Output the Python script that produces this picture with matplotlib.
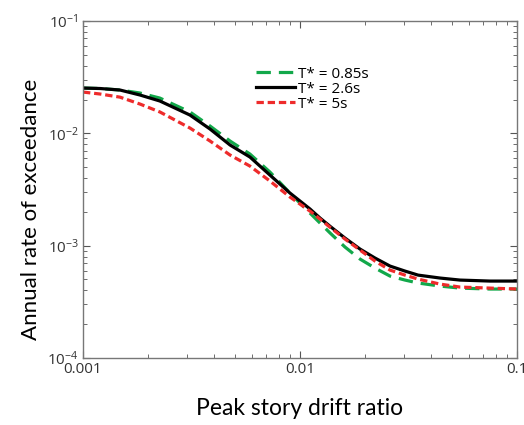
import numpy as np
import matplotlib
matplotlib.use('Agg')
from matplotlib import pyplot as plt
from matplotlib.ticker import LogLocator, NullFormatter, FixedLocator, FixedFormatter

# values (log-log axes)
drift = [0.001, 0.001198, 0.00148, 0.00183, 0.00226, 0.00311, 0.00385, 0.00476,
         0.00588, 0.00727, 0.00899, 0.01112, 0.01237, 0.01374, 0.01612, 0.0189,
         0.02216, 0.0260, 0.03047, 0.0350, 0.04417, 0.0546, 0.0751, 0.1]

rate_085 = [0.0253, 0.02506, 0.0243, 0.02285, 0.0206, 0.0155, 0.01161, 0.00854,
            0.00654, 0.00452, 0.00294, 0.00195, 0.001589, 0.00130, 0.000972, 0.00076,
            0.000632, 0.000536, 0.000494, 0.000465, 0.000437, 0.000419, 0.000411, 0.000411]
rate_26 = [0.0253, 0.02506, 0.0243, 0.02194, 0.0194, 0.01455, 0.01092, 0.00787,
           0.00615, 0.00425, 0.00294, 0.00212, 0.001761, 0.00149, 0.001168, 0.000933,
           0.000776, 0.000658, 0.000594, 0.000547, 0.000515, 0.000494, 0.000484, 0.000484]
rate_5 = [0.0233, 0.02239, 0.0210, 0.01823, 0.0155, 0.01115, 0.00854, 0.00641,
          0.00511, 0.00376, 0.00271, 0.00203, 0.001726, 0.00146, 0.001145, 0.000914,
          0.000729, 0.000606, 0.000547, 0.000504, 0.000455, 0.000428, 0.000419, 0.000411]

labels = ['T* = 0.85s', 'T* = 2.6s', 'T* = 5s']
xticks = [0.001, 0.01, 0.1]
xticklabels = ['0.001', '0.01', '0.1']

tick_font = 'Open Sans'
label_font = 'Lato'

fig = plt.figure(figsize=(5.24, 4.25), dpi=100)
ax = fig.add_axes([83/524, 67/425, 434/524, 337/425])

ax.plot(drift, rate_085, color='#12a84a', lw=2.3, dashes=(4.5, 2.5), label=labels[0])
ax.plot(drift, rate_26, color='black', lw=2.3, label=labels[1])
ax.plot(drift, rate_5, color='#ee2b2b', lw=2.3, dashes=(2.3, 1.2), label=labels[2])

ax.set_xscale('log')
ax.set_yscale('log')
ax.set_xlim(0.001, 0.1)
ax.set_ylim(1e-4, 1e-1)

ax.xaxis.set_major_locator(FixedLocator(xticks))
ax.xaxis.set_major_formatter(FixedFormatter(xticklabels))
ax.xaxis.set_minor_locator(LogLocator(base=10, subs=np.arange(2, 10)))
ax.xaxis.set_minor_formatter(NullFormatter())
ax.yaxis.set_major_locator(LogLocator(base=10, numticks=10))
ax.yaxis.set_minor_locator(LogLocator(base=10, subs=np.arange(2, 10), numticks=10))
ax.yaxis.set_minor_formatter(NullFormatter())

ax.tick_params(which='both', direction='in', top=True, right=True, color='#555555')
ax.tick_params(which='major', length=5, width=0.8, labelsize=11, pad=3)
ax.tick_params(which='minor', length=3, width=0.6)
for lab in ax.get_xticklabels() + ax.get_yticklabels():
    lab.set_fontfamily(tick_font)
    lab.set_color('#333333')
for sp in ax.spines.values():
    sp.set_color('#777777')
    sp.set_linewidth(1.0)

ax.set_xlabel('Peak story drift ratio', fontsize=16.5, fontfamily=label_font, labelpad=15)
ax.set_ylabel('Annual rate of exceedance', fontsize=16, fontfamily=label_font)
ax.yaxis.set_label_coords(-0.097, 0.44)

leg = ax.legend(loc='upper left', bbox_to_anchor=(0.38, 0.887), frameon=False,
                handlelength=2.6, handletextpad=0.15, borderpad=0, labelspacing=0.0,
                prop={'family': tick_font, 'size': 11})

fig.savefig('out.png', dpi=100)
